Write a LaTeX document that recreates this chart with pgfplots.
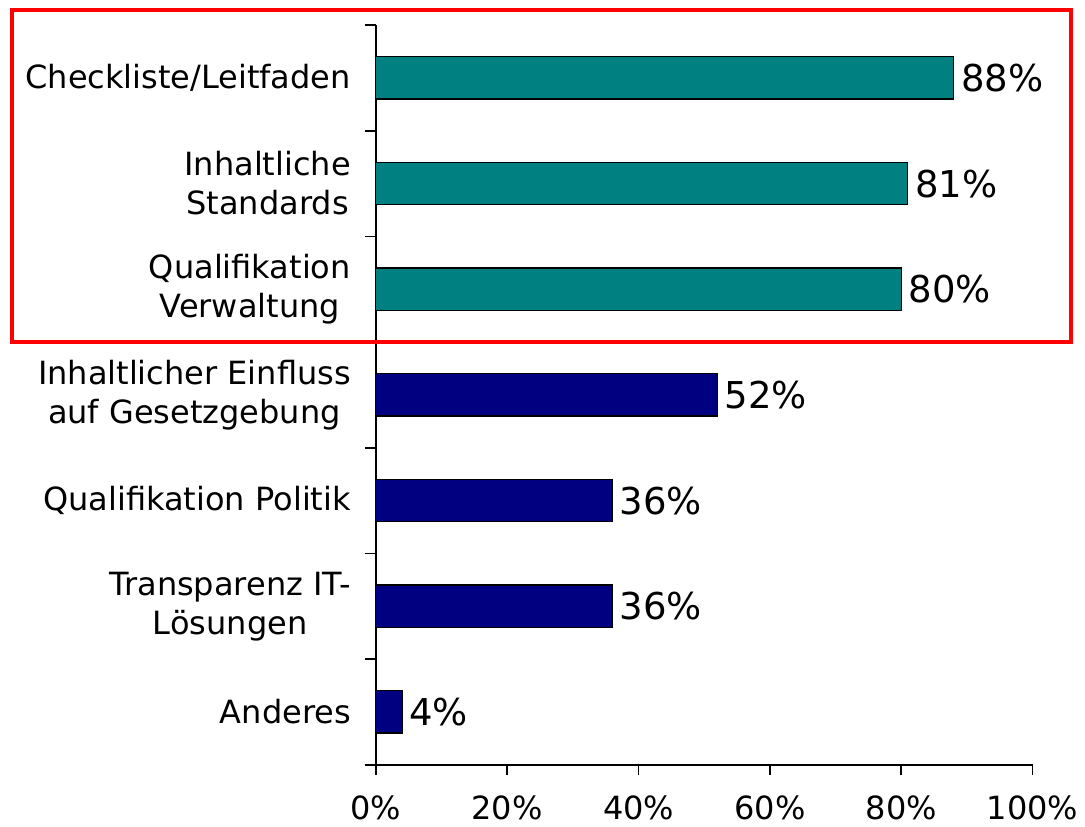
\documentclass[border=0pt]{standalone}
\usepackage{fontspec}
\setmainfont{DejaVu Sans}
\usepackage{pgfplots}
\pgfplotsset{compat=1.18}
\definecolor{barteal}{RGB}{0,128,128}
\definecolor{barnavy}{RGB}{0,0,128}

\begin{document}
\begin{tikzpicture}
\begin{axis}[
  xbar,
  scale only axis,
  width=328.5pt,
  height=370pt,
  xmin=0, xmax=100,
  ymin=-0.5, ymax=6.5,
  bar width=0.4,
  bar shift=0pt,
  axis x line*=bottom,
  axis y line*=left,
  axis line style={line width=0.8pt},
  every tick/.style={black, line width=0.8pt},
  tick align=outside,
  xtick={0,20,...,100},
  xticklabel={\pgfmathprintnumber{\tick}\%},
  /pgf/number format/assume math mode=true,
  major tick length=5pt,
  minor tick length=5.5pt,
  xticklabel style={yshift=-7pt},
  ytick={0,...,6},
  yticklabels={Anderes, {Transparenz IT-\\Lösungen}, Qualifikation Politik,
               {Inhaltlicher Einfluss\\auf Gesetzgebung},
               {Qualifikation\\Verwaltung}, {Inhaltliche\\Standards},
               Checkliste/Leitfaden},
  yticklabel style={align=center, xshift=-4pt},
  major y tick style={draw=none},
  minor ytick={-0.5,0.5,...,6.5},
  minor y tick style={draw=black, line width=0.8pt},
  tick label style={font=\fontsize{16}{19.5}\selectfont},
  point meta=x,
  nodes near coords={\pgfmathprintnumber{\pgfplotspointmeta}\%},
  nodes near coords align={horizontal},
  every node near coord/.append style={font=\fontsize{18.5}{22}\selectfont, black, xshift=0pt},
  clip=false,
]
\addplot[fill=barnavy, draw=black, line width=0.6pt] coordinates {
  (4,0) (36,1) (36,2) (52,3)};
\addplot[fill=barteal, draw=black, line width=0.6pt] coordinates {
  (80,4) (81,5) (88,6)};
\draw[red, line width=2pt] (axis cs:-55.4,3.5) rectangle (axis cs:105.9,6.64);
\path (axis cs:-57.23,6.737) rectangle (axis cs:107.9,-1.087);
\end{axis}
\end{tikzpicture}
\end{document}
